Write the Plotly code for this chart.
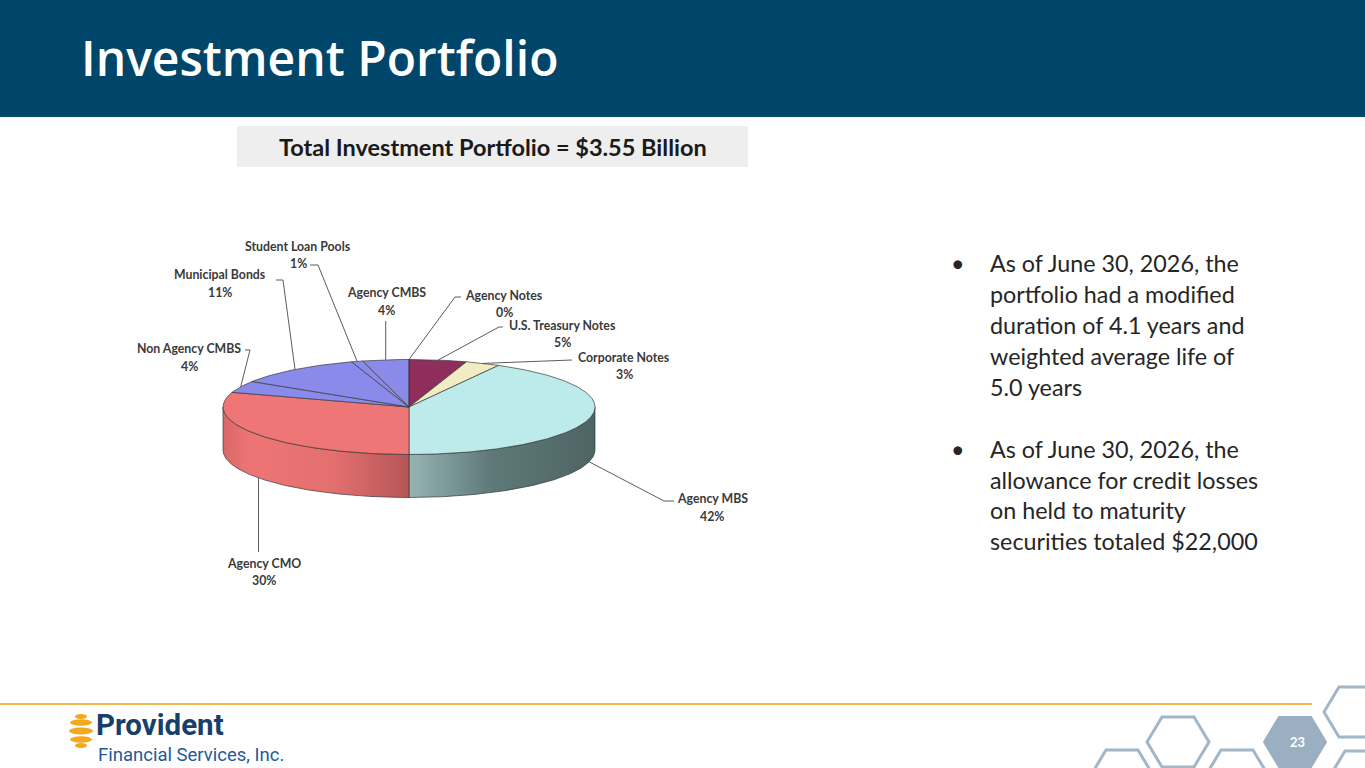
import numpy as np
import plotly.graph_objects as go

# ---------------- data ----------------
categories = ["Agency Notes", "U.S. Treasury Notes", "Corporate Notes", "Agency MBS",
              "Agency CMO", "Non Agency CMBS", "Municipal Bonds", "Student Loan Pools",
              "Agency CMBS"]
values = [0, 5, 3, 42, 30, 4, 11, 1, 4]
pct_labels = ["0%", "5%", "3%", "42%", "30%", "4%", "11%", "1%", "4%"]

title_text = "Investment Portfolio"
subtitle_text = "Total Investment Portfolio = $3.55 Billion"
bullet1 = ["As of June 30, 2026, the", "portfolio had a modified",
           "duration of 4.1 years and", "weighted average life of", "5.0 years"]
bullet2 = ["As of June 30, 2026, the", "allowance for credit losses",
           "on held to maturity", "securities totaled $22,000"]
page_number = "23"

# ---------------- styles / layout constants ----------------
W, H = 1365, 768
CX, CY, RX, RY, DEPTH = 409, 407, 186, 47.5, 43
top_colors = ["#4F81BD", "#8F2D5B", "#F1ECC2", "#BDEBEC", "#EE7676",
              "#898AE9", "#898AE9", "#898AE9", "#898AE9"]
side_scales = {
    "Agency MBS": [[0, "#97B4B4"], [0.45, "#5E7878"], [1, "#4D6464"]],
    "Agency CMO": [[0, "#DA6868"], [0.15, "#EE7575"], [0.6, "#E36F6F"], [1, "#B55657"]],
}
EDGE = "#3A3A3A"
LEADER = "#4A4A4A"
LABEL_COLOR = "#3A3A3A"
LABEL_FONT = dict(family="Lato, Open Sans", size=12.3, color=LABEL_COLOR)

# label placement: text centre x, name-line y, pct-line y, leader waypoints (from slice outward)
label_layout = {
    "Agency Notes":        dict(x=504, y1=295, y2=312, path=[(455, 297), (461, 297)]),
    "U.S. Treasury Notes": dict(x=562, y1=325, y2=342, path=[(499, 327), (503, 327)]),
    "Corporate Notes":     dict(x=624, y1=357, y2=374, path=[(572, 360)]),
    "Agency MBS":          dict(x=712, y1=498, y2=516, path=[(664, 501), (674, 501)]),
    "Agency CMO":          dict(x=264, y1=563, y2=580, path=[(None, 552)]),
    "Non Agency CMBS":     dict(x=189, y1=348, y2=366, path=[(250, 350), (245, 350)]),
    "Municipal Bonds":     dict(x=220, y1=274, y2=292, path=[(283, 280), (276, 280)]),
    "Student Loan Pools":  dict(x=298, y1=246, y2=263, path=[(318, 265), (310, 265)]),
    "Agency CMBS":         dict(x=386, y1=292, y2=310, path=[(None, 321)]),
}


def rim(theta_deg, dy=0.0):
    t = np.radians(theta_deg)
    return CX + RX * np.sin(t), CY - RY * np.cos(t) + dy


total = float(sum(values))
cum = np.concatenate([[0.0], np.cumsum(values)]) / total * 360.0

fig = go.Figure()

# ---- side walls (front half only) ----
for i, cat in enumerate(categories):
    a0, a1 = max(cum[i], 90.0), min(cum[i + 1], 270.0)
    if a1 <= a0:
        continue
    th = np.linspace(a0, a1, max(3, int((a1 - a0) * 2)))
    xt, yt = rim(th)
    xb, yb = rim(th[::-1], DEPTH)
    xs = np.concatenate([xt, xb, xt[:1]])
    ys = np.concatenate([yt, yb, yt[:1]])
    kw = dict(fillcolor=top_colors[i])
    if cat in side_scales:
        kw = dict(fillgradient=dict(type="horizontal", colorscale=side_scales[cat]))
    fig.add_trace(go.Scatter(x=xs, y=ys, mode="lines", fill="toself",
                             line=dict(color=EDGE, width=0.7), hoverinfo="skip",
                             showlegend=False, **kw))

# ---- top faces ----
for i, cat in enumerate(categories):
    a0, a1 = cum[i], cum[i + 1]
    if a1 - a0 <= 0:
        continue
    th = np.linspace(a0, a1, max(3, int((a1 - a0) * 2)))
    xr, yr = rim(th)
    xs = np.concatenate([[CX], xr, [CX]])
    ys = np.concatenate([[CY], yr, [CY]])
    fig.add_trace(go.Scatter(x=xs, y=ys, mode="lines", fill="toself",
                             fillcolor=top_colors[i],
                             line=dict(color=EDGE, width=0.7), hoverinfo="skip",
                             showlegend=False))

# zero-size slice boundary line (Agency Notes)
for i, cat in enumerate(categories):
    if values[i] == 0:
        x0, y0 = rim(cum[i])
        fig.add_trace(go.Scatter(x=[CX, x0], y=[CY, y0], mode="lines",
                                 line=dict(color=EDGE, width=0.7), hoverinfo="skip",
                                 showlegend=False))

# ---- leader lines and labels ----
annotations = []
for i, cat in enumerate(categories):
    mid = (cum[i] + cum[i + 1]) / 2.0
    visible_side = 90.0 < mid < 270.0
    ax, ay = rim(mid, DEPTH if visible_side else 0.0)
    lay = label_layout[cat]
    px, py = [ax], [ay]
    for (wx, wy) in lay["path"]:
        px.append(ax if wx is None else wx)
        py.append(wy)
    fig.add_trace(go.Scatter(x=px, y=py, mode="lines",
                             line=dict(color=LEADER, width=0.9), hoverinfo="skip",
                             showlegend=False))
    annotations.append(dict(x=lay["x"], y=lay["y1"], text="<b>%s</b>" % cat,
                            showarrow=False, xanchor="center", yanchor="middle",
                            font=LABEL_FONT))
    annotations.append(dict(x=lay["x"], y=lay["y2"], text="<b>%s</b>" % pct_labels[i],
                            showarrow=False, xanchor="center", yanchor="middle",
                            font=LABEL_FONT))

# ---- slide furniture ----
shapes = [
    dict(type="rect", x0=0, x1=W, y0=0, y1=117, fillcolor="#00466B", line=dict(width=0), layer="below"),
    dict(type="rect", x0=237, x1=748, y0=126, y1=167, fillcolor="#EEEEEE", line=dict(width=0), layer="below"),
    dict(type="line", x0=0, x1=1312, y0=704, y1=704, line=dict(color="#F2B84B", width=2)),
]

annotations.append(dict(x=79, y=57, text=title_text, showarrow=False, xanchor="left",
                        yanchor="middle", font=dict(family="Open Sans", size=48, color="white",
                                                    weight=600)))
annotations.append(dict(x=492.5, y=146.5, text="<b>%s</b>" % subtitle_text, showarrow=False,
                        xanchor="center", yanchor="middle",
                        font=dict(family="Lato, Open Sans", size=23.5, color="#1A1A1A")))

BUL_FONT = dict(family="Lato, Open Sans", size=23.3, color="#262626")
for lines, ys in ((bullet1, [263, 294, 325, 356, 387]), (bullet2, [449, 479.5, 510, 540.5])):
    annotations.append(dict(x=958, y=ys[0], text="\u2022", showarrow=False, xanchor="center",
                            yanchor="middle", font=BUL_FONT))
    for t, yy in zip(lines, ys):
        annotations.append(dict(x=988, y=yy, text=t, showarrow=False, xanchor="left",
                                yanchor="middle", font=BUL_FONT))

# logo
logo_col = "#F4A81E"
for (yc, hw, hh) in [(716.5, 6, 2.5), (722.5, 11, 3.2), (731, 12, 3.4), (739.5, 11, 3.2), (745.5, 6, 2.5)]:
    shapes.append(dict(type="circle", x0=81 - hw, x1=81 + hw, y0=yc - hh, y1=yc + hh,
                       fillcolor=logo_col, line=dict(width=0)))
annotations.append(dict(x=94, y=725, text="<b>Provident</b>", showarrow=False, xanchor="left",
                        yanchor="middle",
                        font=dict(family="Liberation Sans Narrow, Roboto", size=29.5, color="#163F6B")))
annotations.append(dict(x=96, y=755, text="Financial Services, Inc.", showarrow=False,
                        xanchor="left", yanchor="middle",
                        font=dict(family="Liberation Sans Narrow, Roboto", size=18.5, color="#1F5A96")))


# hexagons
def hex_path(cx, cy, rw=31, rh=25, e=16):
    pts = [(cx - rw, cy), (cx - e, cy - rh), (cx + e, cy - rh), (cx + rw, cy),
           (cx + e, cy + rh), (cx - e, cy + rh)]
    return "M " + " L ".join("%g,%g" % p for p in pts) + " Z"


HEX_COL = "#A2B6C7"
for (hx, hy) in [(1178, 742), (1122, 775), (1237, 775), (1355, 712), (1361, 776)]:
    shapes.append(dict(type="path", path=hex_path(hx, hy), line=dict(color=HEX_COL, width=3),
                       fillcolor="rgba(0,0,0,0)"))
shapes.append(dict(type="path", path=hex_path(1295, 742), line=dict(color="#9AAFC1", width=2),
                   fillcolor="#9AAFC1"))
annotations.append(dict(x=1297, y=742, text="<b>%s</b>" % page_number, showarrow=False,
                        xanchor="center", yanchor="middle",
                        font=dict(family="Lato, Open Sans", size=13, color="white")))

fig.update_layout(
    width=W, height=H, margin=dict(l=0, r=0, t=0, b=0),
    paper_bgcolor="white", plot_bgcolor="white",
    xaxis=dict(range=[0, W], visible=False, fixedrange=True, domain=[0, 1]),
    yaxis=dict(range=[H, 0], visible=False, fixedrange=True, domain=[0, 1]),
    shapes=shapes, annotations=annotations, hovermode=False, showlegend=False,
)

fig.write_html("out.html", include_plotlyjs=True, config={"displayModeBar": False},
               post_script="document.body.style.margin='0';document.body.style.overflow='hidden';")
